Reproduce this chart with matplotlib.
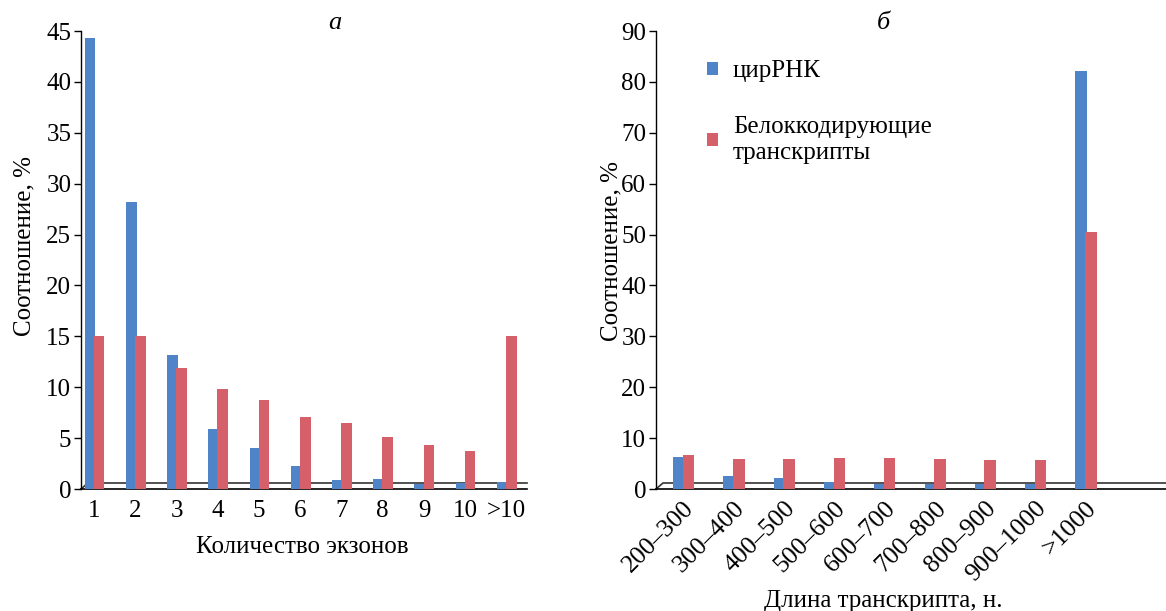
import matplotlib
matplotlib.use("Agg")
import matplotlib.pyplot as plt
import numpy as np
from matplotlib.patches import Patch

plt.rcParams['font.family'] = ['Liberation Serif', 'DejaVu Serif']

# ---- data ----
exon_labels = ['1', '2', '3', '4', '5', '6', '7', '8', '9', '10', '>10']
exon_circ = [44.3, 28.2, 13.2, 5.9, 4.0, 2.3, 0.9, 1.0, 0.5, 0.6, 0.7]
exon_coding = [15.0, 15.0, 11.9, 9.8, 8.7, 7.1, 6.5, 5.1, 4.3, 3.7, 15.0]

len_labels = ['200–300', '300–400', '400–500', '500–600', '600–700',
              '700–800', '800–900', '900–1000', '>1000']
len_circ = [6.3, 2.6, 2.1, 1.3, 0.9, 0.9, 0.9, 0.9, 82.1]
len_coding = [6.6, 5.9, 5.8, 6.0, 6.1, 5.8, 5.7, 5.7, 50.6]

series_names = ['цирРНК', 'Белоккодирующие\nтранскрипты']
blue = '#4f84c9'
red = '#d6606a'

W, H = 1166, 611
fig = plt.figure(figsize=(W / 100, H / 100), dpi=100)

def px_axes(x0, x1, ytop, ybot):
    return fig.add_axes([x0 / W, 1 - ybot / H, (x1 - x0) / W, (ybot - ytop) / H])

axL = px_axes(81, 527, 31, 489)
axR = px_axes(656, 1166, 31, 489)

def draw(ax, labels, s1, s2, width, xlim, ylim, yticks, rot):
    x = np.arange(len(labels))
    ax.bar(x - width / 2 + 0.03, s1, width, color=blue, edgecolor='none', zorder=3)
    ax.bar(x + width / 2 - 0.01, s2, width, color=red, edgecolor='none', zorder=3)
    ax.set_xlim(*xlim)
    ax.set_ylim(*ylim)
    ax.set_yticks(yticks)
    ax.set_xticks(x)
    if rot:
        ax.set_xticklabels(labels, rotation=45, ha='right', va='top',
                           rotation_mode='anchor')
        ax.tick_params(axis='x', length=0, pad=6, labelsize=18.5)
    else:
        ax.set_xticklabels(labels)
        ax.tick_params(axis='x', length=0, pad=8, labelsize=18)
    ax.tick_params(axis='y', length=5, width=1, direction='out', labelsize=18, pad=2)
    for s in ['top', 'right']:
        ax.spines[s].set_visible(False)
    ax.spines['left'].set_linewidth(1)
    ax.spines['bottom'].set_linewidth(1.2)
    # pseudo-3D floor line
    dy = 6 / (489 - 31)
    ax.plot([0, 7 / ax.bbox.width, 1], [0, dy, dy], transform=ax.transAxes,
            color='#333333', lw=1.2, zorder=2, clip_on=False)
    ax.set_facecolor('none')

draw(axL, exon_labels, exon_circ, exon_coding, 0.26, (-0.32, 10.5), (0, 45),
     range(0, 46, 5), False)
draw(axR, len_labels, len_circ, len_coding, 0.23, (-0.54, 9.6), (0, 90),
     range(0, 91, 10), True)

axL.set_ylabel('Соотношение, %', fontsize=18)
axR.set_ylabel('Соотношение, %', fontsize=18)
axL.yaxis.set_label_coords(-0.103, 0.53)
axR.yaxis.set_label_coords(-0.065, 0.52)
axL.set_xlabel('Количество экзонов', fontsize=18)
axR.set_xlabel('Длина транскрипта, н.', fontsize=18)
axL.xaxis.set_label_coords(0.496, -0.103)
axR.xaxis.set_label_coords(0.445, -0.22)

fig.text(335 / W, 1 - 23 / H, 'а', fontsize=19, style='italic', ha='center', va='center')
fig.text(883 / W, 1 - 23 / H, 'б', fontsize=19, style='italic', ha='center', va='center')

handles = [Patch(facecolor=blue, edgecolor='none'), Patch(facecolor=red, edgecolor='none')]
axR.legend(handles, series_names, loc='upper left', bbox_to_anchor=(0.055, 0.985),
           frameon=False, fontsize=18, handlelength=0.45, handleheight=0.45,
           handletextpad=0.6, labelspacing=1.35)

fig.savefig('out.png', dpi=100)
